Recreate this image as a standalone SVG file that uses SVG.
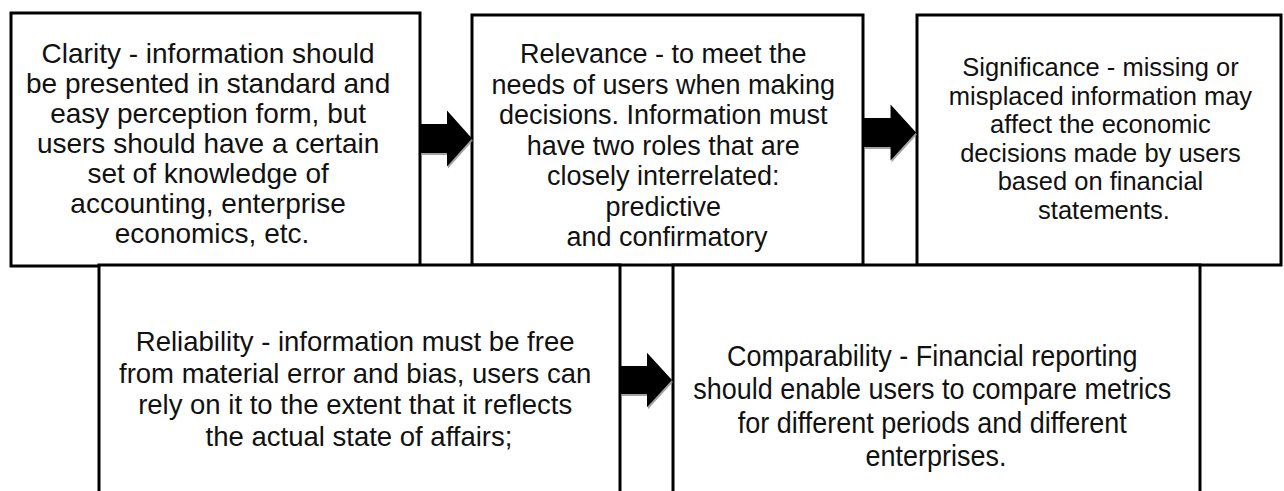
<svg xmlns="http://www.w3.org/2000/svg" width="1284" height="491" viewBox="0 0 1284 491">
  <style>
    .box { fill: #ffffff; stroke: #000000; stroke-width: 3; }
    .lbl { font-family: "Liberation Sans", Arial, sans-serif; fill: #111111; text-anchor: middle; }
    .arrow { fill: #000000; }
    .shadow { fill: #8c8c8c; opacity: 0.8; }
  </style>
  <defs>
    <polygon id="arrowShape" points="0,-14.5 27,-14.5 27,-28 52,0 27,28 27,14.5 0,14.5"/>
  </defs>
  <rect width="1284" height="491" fill="#ffffff"/>

  <g id="node-clarity">
    <rect class="box" x="11" y="13" width="409" height="253"/>
    <text class="lbl" font-size="28">
      <tspan x="212" y="63">Clarity - information should</tspan>
      <tspan x="212" y="93">be presented in standard and</tspan>
      <tspan x="212" y="123">easy perception form, but</tspan>
      <tspan x="212" y="153">users should have a certain</tspan>
      <tspan x="212" y="183">set of knowledge of</tspan>
      <tspan x="212" y="213">accounting, enterprise</tspan>
      <tspan x="212" y="243">economics, etc.</tspan>
    </text>
  </g>

  <g id="node-relevance">
    <rect class="box" x="472" y="15" width="391" height="250"/>
    <text class="lbl" font-size="27">
      <tspan x="667" y="63">Relevance - to meet the</tspan>
      <tspan x="667" y="93.5">needs of users when making</tspan>
      <tspan x="667" y="124">decisions. Information must</tspan>
      <tspan x="667" y="154.5">have two roles that are</tspan>
      <tspan x="667" y="185">closely interrelated:</tspan>
      <tspan x="667" y="215.5">predictive</tspan>
      <tspan x="667" y="246">and confirmatory</tspan>
    </text>
  </g>

  <g id="node-significance">
    <rect class="box" x="917" y="15" width="364" height="250"/>
    <text class="lbl" font-size="25.5">
      <tspan x="1104" y="76">Significance - missing or</tspan>
      <tspan x="1104" y="104.5">misplaced information may</tspan>
      <tspan x="1104" y="133">affect the economic</tspan>
      <tspan x="1104" y="161.5">decisions made by users</tspan>
      <tspan x="1104" y="190">based on financial</tspan>
      <tspan x="1104" y="218.5">statements.</tspan>
    </text>
  </g>

  <g id="node-reliability">
    <rect class="box" x="99" y="265" width="521" height="240"/>
    <text class="lbl" font-size="27.5">
      <tspan x="359" y="351">Reliability - information must be free</tspan>
      <tspan x="359" y="382.5">from material error and bias, users can</tspan>
      <tspan x="359" y="414">rely on it to the extent that it reflects</tspan>
      <tspan x="359" y="445.5">the actual state of affairs;</tspan>
    </text>
  </g>

  <g id="node-comparability">
    <rect class="box" x="673" y="265" width="527" height="240"/>
    <text class="lbl" font-size="29" transform="translate(936,0) scale(0.93,1)">
      <tspan x="0" y="366">Comparability - Financial reporting</tspan>
      <tspan x="0" y="399.5">should enable users to compare metrics</tspan>
      <tspan x="0" y="433">for different periods and different</tspan>
      <tspan x="0" y="466.5">enterprises.</tspan>
    </text>
  </g>

  <g id="connectors">
    <use href="#arrowShape" class="shadow" transform="translate(421,140.5)"/>
    <use href="#arrowShape" class="arrow" transform="translate(420,138.5)"/>
    <use href="#arrowShape" class="shadow" transform="translate(864,134.5) scale(1.02,1)"/>
    <use href="#arrowShape" class="arrow" transform="translate(863,132.5) scale(1.02,1)"/>
    <use href="#arrowShape" class="shadow" transform="translate(621,382) scale(1,0.97)"/>
    <use href="#arrowShape" class="arrow" transform="translate(620,380) scale(1,0.97)"/>
  </g>
</svg>
